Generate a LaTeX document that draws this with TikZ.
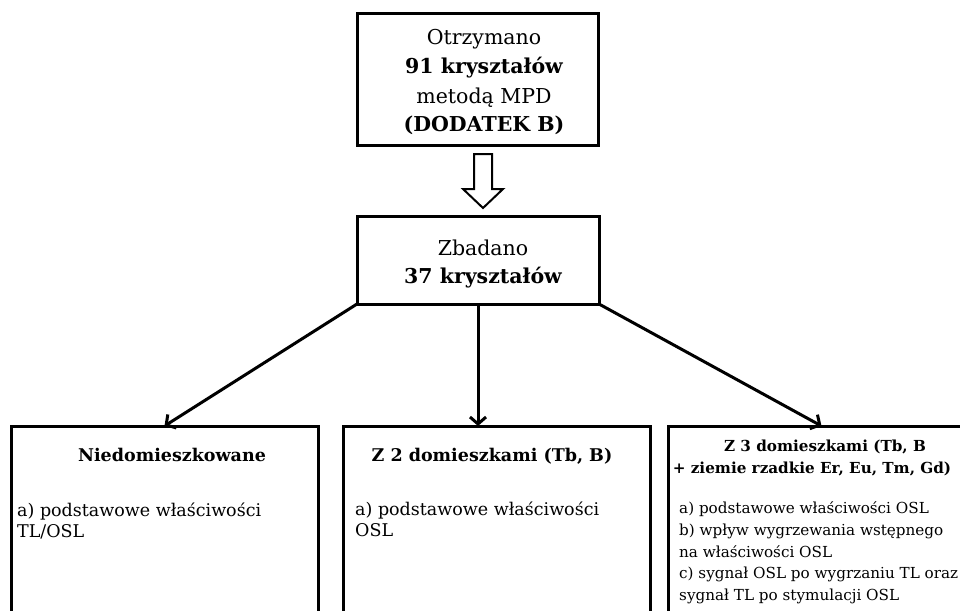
\documentclass[tikz,border=0pt]{standalone}
\usepackage{fontspec}
\setmainfont{DejaVu Serif}
\usetikzlibrary{arrows.meta}
\newcommand{\bigtxt}{\fontsize{20.5}{27}\selectfont}
\newcommand{\midtxt}{\fontsize{17.5}{22}\selectfont}
\newcommand{\smalltxt}{\fontsize{15.2}{21.7}\selectfont}
\begin{document}
\begin{tikzpicture}[x=1pt,y=-1pt,
  box/.style={draw, line width=3, rectangle, outer sep=0, inner sep=0},
  conn/.style={line width=3, -{Straight Barb[length=7,width=16,line width=3]}},
  big/.style={anchor=base, inner sep=0, font=\bigtxt},
  ttl/.style={anchor=base, inner sep=0, font=\midtxt\bfseries},
  ttls/.style={anchor=base, inner sep=0, font=\smalltxt\bfseries},
  ln/.style={anchor=base west, inner sep=0, font=\midtxt},
  lns/.style={anchor=base west, inner sep=0, font=\smalltxt}]
\useasboundingbox (0,0) rectangle (960,610);
\clip (0,0) rectangle (960,610);
% boxes
\node[box, minimum width=241, minimum height=131] (top) at (477.5,79.5) {};
\node[box, minimum width=242, minimum height=88] (mid) at (478,260) {};
\node[box, anchor=north, minimum width=307, minimum height=220] (lb) at (164.5,426) {};
\node[box, anchor=north, minimum width=307, minimum height=220] (mb) at (496.5,426) {};
\node[box, anchor=north, minimum width=307, minimum height=220] (rb) at (821.5,426) {};
% top text
\node[big] (t1) at (484,45) {Otrzymano};
\node[big] (t2) at (484,74) {\bfseries 91 kryształów};
\node[big] (t3) at (484,103) {metodą MPD};
\node[big] (t4) at (484,131) {\bfseries (DODATEK B)};
% middle text
\node[big] (m1) at (483,255) {Zbadano};
\node[big] (m2) at (483,283) {\bfseries 37 kryształów};
% hollow arrow
\coordinate (h) at (483,154);
\draw[line width=2, line join=miter] (h) ++(-9,0) -- ++(0,35) -- ++(-11,0) -- ++(20,19) -- ++(20,-19) -- ++(-11,0) -- ++(0,-35) -- cycle;
% connectors
\draw[conn] (mid.south west) -- (lb.north);
\draw[conn] (mid.south) -- (mid.south |- mb.north);
\draw[conn] (mid.south east) -- (rb.north);
% left box text
\node[ttl] (lt) at (172,461) {Niedomieszkowane};
\node[ln] (la1) at (17,516) {a) podstawowe właściwości};
\node[ln] (la2) at (17,537) {TL/OSL};
% middle box text
\node[ttl] (mt) at (492,461) {Z 2 domieszkami (Tb, B)};
\node[ln] (ma1) at (355,515) {a) podstawowe właściwości};
\node[ln] (ma2) at (355,536) {OSL};
% right box text
\node[ttls] (rt1) at (825,451.5) {Z 3 domieszkami (Tb, B};
\node[ttls] (rt2) at (812,473) {+ ziemie rzadkie Er, Eu, Tm, Gd)};
\node[lns] (ra1) at (679,513) {a) podstawowe właściwości OSL};
\node[lns] (ra2) at (679,535) {b) wpływ wygrzewania wstępnego};
\node[lns] (ra3) at (679,557) {na właściwości OSL};
\node[lns] (ra4) at (679,578.5) {c) sygnał OSL po wygrzaniu TL oraz};
\node[lns] (ra5) at (679,600) {sygnał TL po stymulacji OSL};
\end{tikzpicture}
\end{document}
